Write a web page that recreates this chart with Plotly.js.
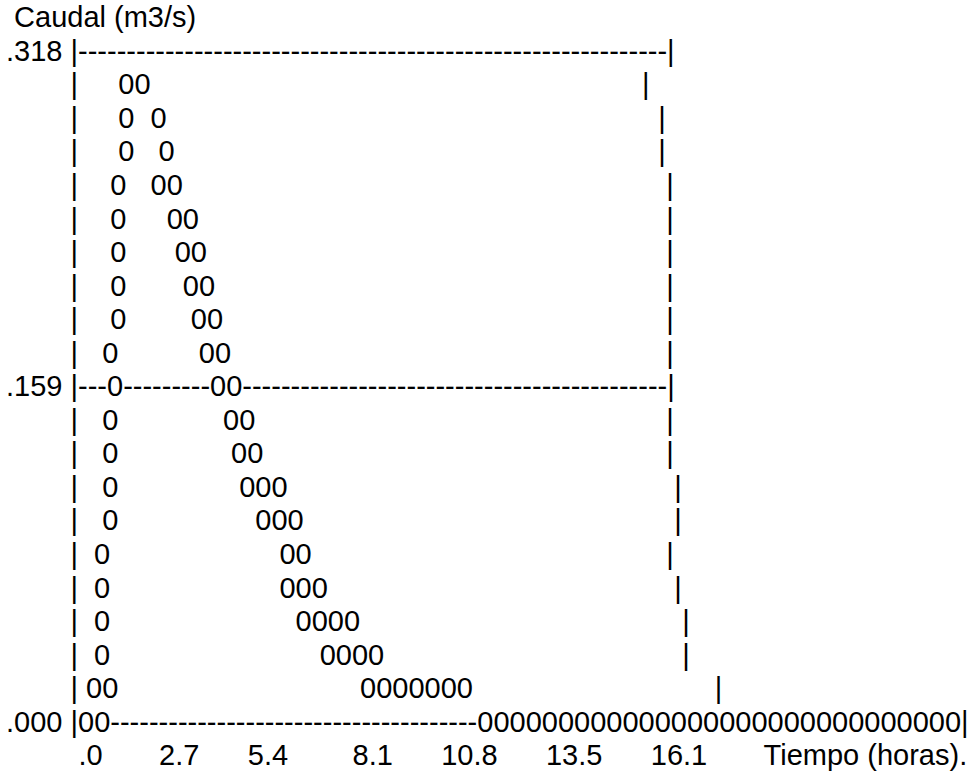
<!DOCTYPE html>
<html>
<head>
<meta charset="utf-8">
<script src="https://cdn.plot.ly/plotly-3.0.1.min.js"></script>
<style>
  html, body { margin: 0; padding: 0; background: #ffffff; }
  #chart { width: 974px; height: 778px; }
</style>
</head>
<body>
<div id="chart"></div>
<script>
// ---- Chart text / data (ASCII hydrograph, run-length encoded) ----
const yTitle = ' Caudal (m3/s)';
const xTitle = 'Tiempo (horas).';
const yTickLabels = ['.318', '.159', '.000'];
const xTickLabels = ['.0', '2.7', '5.4', '8.1', '10.8', '13.5', '16.1'];
const xTickGaps = [9, 7, 6, 8, 6, 6, 6, 7];   // blanks before each tick label and before the x title

// Rows between .318 and .159: [blanks, zeros, blanks, zeros, blanks, ...]
const upperRows = [
  [5, 2, 61],
  [5, 1, 2, 1, 61],
  [5, 1, 3, 1, 60],
  [4, 1, 3, 2, 60],
  [4, 1, 5, 2, 58],
  [4, 1, 6, 2, 57],
  [4, 1, 7, 2, 56],
  [4, 1, 8, 2, 55],
  [3, 1, 10, 2, 54]
];
// Rows between .159 and .000
const lowerRows = [
  [3, 1, 13, 2, 51],
  [3, 1, 14, 2, 50],
  [3, 1, 15, 3, 48],
  [3, 1, 17, 3, 46],
  [2, 1, 21, 2, 44],
  [2, 1, 21, 3, 43],
  [2, 1, 23, 4, 40],
  [2, 1, 26, 4, 37],
  [1, 2, 30, 7, 30]
];
// Gridline rows: [dashes, zeros, dashes, zeros, ...]
const topRow = [61];
const midRow = [3, 1, 9, 2, 44];
const bottomRow = [0, 2, 38, 30];

// ---- Build the text lines ----
function rep(ch, n) { return new Array(n + 1).join(ch); }
function build(runs, fill) {
  return runs.map((n, i) => rep(i % 2 === 0 ? fill : '0', n)).join('');
}
const indent = rep(' ', 8);
const lines = [];
lines.push(yTitle);
lines.push(yTickLabels[0] + ' |' + build(topRow, '-') + '|');
upperRows.forEach(r => lines.push(indent + '|' + build(r, ' ') + '|'));
lines.push(yTickLabels[1] + ' |' + build(midRow, '-') + '|');
lowerRows.forEach(r => lines.push(indent + '|' + build(r, ' ') + '|'));
lines.push(yTickLabels[2] + ' |' + build(bottomRow, '-') + '|');
let tickLine = '';
xTickLabels.forEach((t, i) => { tickLine += rep(' ', xTickGaps[i]) + t; });
tickLine += rep(' ', xTickGaps[xTickLabels.length]) + xTitle;
lines.push(tickLine);

const NBSP = '\u00a0';
const trace = {
  type: 'scatter',
  mode: 'text',
  x: lines.map(() => 0),
  y: lines.map((_, i) => i),
  text: lines.map(s => s.replace(/ /g, NBSP)),
  textposition: 'middle right',
  textfont: { family: 'Liberation Sans, Arial, sans-serif', size: 29, color: '#000000' },
  hoverinfo: 'skip',
  showlegend: false
};

const layout = {
  width: 974,
  height: 778,
  margin: { l: 0, r: 0, t: 0, b: 0, pad: 0 },
  paper_bgcolor: '#ffffff',
  plot_bgcolor: '#ffffff',
  showlegend: false,
  hovermode: false,
  xaxis: { range: [-6, 968], visible: false, fixedrange: true },
  yaxis: { range: [22.596, -0.596], visible: false, fixedrange: true }
};

Plotly.newPlot('chart', [trace], layout, { displayModeBar: false, staticPlot: true });
</script>
</body>
</html>
